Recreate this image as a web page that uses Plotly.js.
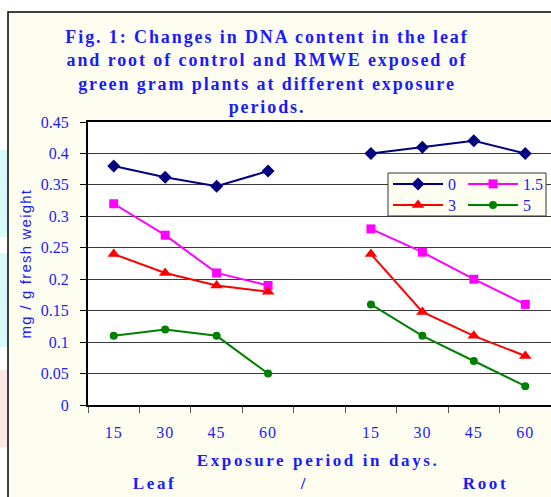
<!DOCTYPE html>
<html>
<head>
<meta charset="utf-8">
<script src="https://cdn.plot.ly/plotly-3.0.1.min.js"></script>
<style>
  html, body { margin: 0; padding: 0; background: #ffffff; }
  #chart { width: 551px; height: 497px; }
  .gtitle { letter-spacing: 1.9px; }
  .annotation[data-index="0"] text,
  .annotation[data-index="1"] text,
  .annotation[data-index="2"] text,
  .annotation[data-index="3"] text { letter-spacing: 2.6px; }
  .annotation[data-index="4"] text { letter-spacing: 1.2px; }
  .xtick text { letter-spacing: 1px; }
</style>
</head>
<body>
<div id="chart"></div>
<script>
// ---- data ----
var categories = ['15', '30', '45', '60', '', '15', '30', '45', '60'];
var seriesNames = ['0', '1.5', '3', '5'];

var leaf0  = [0.380, 0.362, 0.348, 0.372];
var root0  = [0.400, 0.410, 0.420, 0.400];
var leaf15 = [0.320, 0.270, 0.210, 0.190];
var root15 = [0.280, 0.243, 0.200, 0.160];
var leaf3  = [0.240, 0.210, 0.190, 0.180];
var root3  = [0.240, 0.148, 0.110, 0.078];
var leaf5  = [0.110, 0.120, 0.110, 0.050];
var root5  = [0.160, 0.110, 0.070, 0.030];

var yTitle = 'mg / g fresh weight';
var xTitle = 'Exposure period in days.';
var groupLabels = ['Leaf', '/', 'Root'];
var chartTitle = 'Fig. 1: Changes in DNA content in the leaf<br>and root of control and RMWE exposed of<br>green gram plants at different exposure<br>periods.';

// ---- build traces ----
var xIdx = categories.map(function (c, i) { return i; });
function joinParts(a, b) { return a.concat([null]).concat(b); }

var styles = [
  { color: '#000080', symbol: 'diamond', size: 10, legend: 'legend' },
  { color: '#ff00ff', symbol: 'square', size: 9, legend: 'legend3' },
  { color: '#ff0000', symbol: 'triangle-up', size: 11, legend: 'legend2' },
  { color: '#008000', symbol: 'circle', size: 8, legend: 'legend4' }
];
var values = [joinParts(leaf0, root0), joinParts(leaf15, root15), joinParts(leaf3, root3), joinParts(leaf5, root5)];

var traces = values.map(function (v, k) {
  return {
    type: 'scatter', mode: 'lines+markers',
    x: xIdx, y: v, name: seriesNames[k],
    connectgaps: false,
    line: { color: styles[k].color, width: 2 },
    marker: { color: styles[k].color, symbol: styles[k].symbol, size: styles[k].size },
    legend: styles[k].legend
  };
});

// pixel helpers for paper positions (plot area: x 88..551, y 122..405)
var L = 88, R = 551, T = 122, B = 405;
function px(x) { return (x - L) / (R - L); }
function py(y) { return (B - y) / (B - T); }

var blue = '#1a1aff';
var serifBold = { family: 'Liberation Serif, Times New Roman, serif', size: 17, color: blue, weight: 'bold' };
var legendFont = { family: 'Liberation Serif, Times New Roman, serif', size: 16, color: blue };

function legendAt(xPix, yPix) {
  return {
    orientation: 'h', x: px(xPix), xanchor: 'left', y: py(yPix), yanchor: 'top',
    bgcolor: 'rgba(0,0,0,0)', borderwidth: 0, itemwidth: 50,
    font: legendFont, tracegroupgap: 0, itemclick: false, itemdoubleclick: false
  };
}

var layout = {
  width: 551, height: 497,
  margin: { l: L, r: 551 - R, t: T, b: 497 - B, pad: 0, autoexpand: false },
  paper_bgcolor: '#ffffff',
  plot_bgcolor: '#ffffff',
  showlegend: true,
  title: {
    text: chartTitle,
    x: 267 / 551, xanchor: 'center', xref: 'container',
    y: 1 - 43 / 497, yanchor: 'top', yref: 'container',
    font: { family: 'Liberation Serif, Times New Roman, serif', size: 18, color: blue, weight: 'bold' }
  },
  xaxis: {
    range: [-0.5, 8.5],
    tickmode: 'array', tickvals: xIdx, ticktext: categories,
    ticks: '', showgrid: false, zeroline: false,
    showline: true, linecolor: '#000', linewidth: 2, mirror: true,
    ticklabelstandoff: 12,
    tickfont: { family: 'Liberation Serif, Times New Roman, serif', size: 16, color: blue },
    minor: { tickmode: 'linear', tick0: -0.5, dtick: 1, ticks: 'outside', ticklen: 6, tickwidth: 1, tickcolor: '#555', showgrid: false }
  },
  yaxis: {
    range: [0, 0.45], dtick: 0.05, tick0: 0,
    ticks: 'outside', ticklen: 6, tickcolor: '#000', tickwidth: 1,
    showline: true, linecolor: '#000', linewidth: 2,
    showgrid: true, gridcolor: '#3a3a3a', gridwidth: 1,
    zeroline: false,
    ticklabelstandoff: 8,
    tickfont: { family: 'Liberation Serif, Times New Roman, serif', size: 16, color: blue }
  },
  legend: legendAt(388, 167),
  legend3: legendAt(463, 167),
  legend2: legendAt(388, 188),
  legend4: legendAt(463, 188),
  shapes: [
    // outer chart frame (cream)
    { type: 'rect', xref: 'paper', yref: 'paper', layer: 'below',
      x0: px(8), x1: px(560), y0: py(505), y1: py(12),
      fillcolor: '#fefef0', line: { color: '#000', width: 1.5 } },
    // white plot area
    { type: 'rect', xref: 'paper', yref: 'paper', layer: 'below',
      x0: 0, x1: 1, y0: 0, y1: 1, fillcolor: '#ffffff', line: { width: 0 } },
    // page colour bits on the far left
    { type: 'rect', xref: 'paper', yref: 'paper', layer: 'below',
      x0: px(0), x1: px(7), y0: py(237), y1: py(150), fillcolor: '#d6fafa', line: { width: 0 } },
    { type: 'rect', xref: 'paper', yref: 'paper', layer: 'below',
      x0: px(0), x1: px(7), y0: py(347), y1: py(253), fillcolor: '#d6fafa', line: { width: 0 } },
    { type: 'rect', xref: 'paper', yref: 'paper', layer: 'below',
      x0: px(0), x1: px(7), y0: py(447), y1: py(370), fillcolor: '#fde6e6', line: { width: 0 } },
    // legend box
    { type: 'rect', xref: 'paper', yref: 'paper', layer: 'above',
      x0: px(388), x1: px(546), y0: py(216), y1: py(173),
      fillcolor: '#fefef0', line: { color: '#333', width: 1 } }
  ],
  annotations: [
    { text: xTitle, xref: 'paper', yref: 'paper', x: px(318), y: py(460), xanchor: 'center', yanchor: 'middle', showarrow: false, font: serifBold },
    { text: groupLabels[0], xref: 'paper', yref: 'paper', x: px(154), y: py(483), xanchor: 'center', yanchor: 'middle', showarrow: false, font: serifBold },
    { text: groupLabels[1], xref: 'paper', yref: 'paper', x: px(304), y: py(483), xanchor: 'center', yanchor: 'middle', showarrow: false, font: serifBold },
    { text: groupLabels[2], xref: 'paper', yref: 'paper', x: px(485), y: py(483), xanchor: 'center', yanchor: 'middle', showarrow: false, font: serifBold },
    { text: yTitle, xref: 'paper', yref: 'paper', x: px(25), y: py(263), xanchor: 'center', yanchor: 'middle', textangle: -90, showarrow: false,
      font: { family: 'Liberation Sans, Arial, sans-serif', size: 15, color: blue } }
  ]
};

Plotly.newPlot('chart', traces, layout, { displayModeBar: false, staticPlot: true });
</script>
</body>
</html>
